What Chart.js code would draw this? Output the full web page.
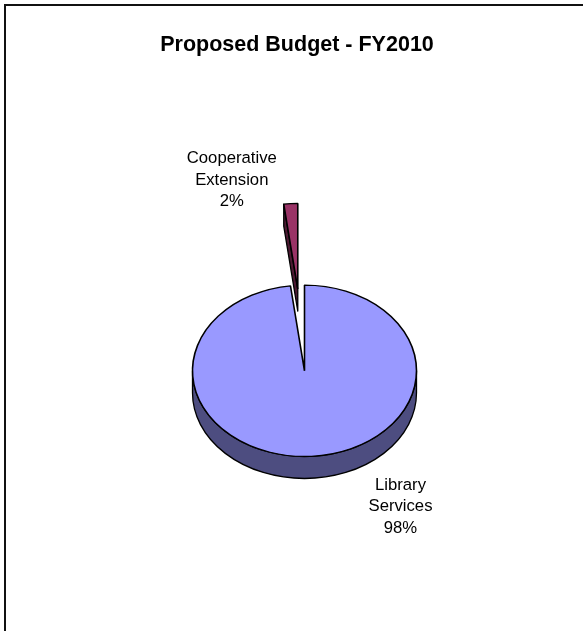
<!DOCTYPE html>
<html>
<head>
<meta charset="utf-8">
<title>Proposed Budget - FY2010</title>
<script src="https://cdn.jsdelivr.net/npm/chart.js@4/dist/chart.umd.min.js"></script>
<style>
  html, body { margin: 0; padding: 0; background: #fff; overflow: hidden; }
  #wrap { position: relative; width: 583px; height: 631px; }
  #frame {
    position: absolute; left: 4px; top: 4px; width: 700px; height: 700px;
    border-left: 2px solid #111; border-top: 2px solid #111;
    pointer-events: none;
  }
  canvas { position: absolute; left: 0; top: 0; }
</style>
</head>
<body>
<div id="wrap">
  <canvas id="chart" width="583" height="631"></canvas>
  <div id="frame"></div>
</div>
<script>
// Budget shares
const categories = ['Library Services', 'Cooperative Extension'];
const values = [98, 2];
const chartTitle = 'Proposed Budget - FY2010';

// Appearance
const topColors = ['#9999ff', '#993366'];
const sideColors = ['#4d4d80', '#4d1a33'];
const explode = [0, 107];          // outward pull of each slice (px, before tilt)
const TILT = 0.765;                // vertical squash of the pie disc
const DEPTH = 22;                  // thickness of the pie
const labelOffsets = [[96, 119], [-66, -126]]; // first baseline of each label, from slice centre
const LABEL_LINE = 21.5;
const FONT = '"Liberation Sans", Arial, Helvetica, sans-serif';

// Draws the pie as a tilted disc with side walls, back slices first
const pie3d = {
  id: 'pie3d',
  beforeDatasetsDraw(chart) {
    const ctx = chart.ctx;
    const meta = chart.getDatasetMeta(0);
    const items = meta.data.map((arc, i) => ({ arc, i, mid: (arc.startAngle + arc.endAngle) / 2 }));
    items.sort((a, b) => Math.sin(a.mid) - Math.sin(b.mid));
    chart.$sliceCentres = [];
    for (const { arc, i, mid } of items) {
      const ex = Math.cos(mid) * explode[i];
      const ey = Math.sin(mid) * explode[i];
      const sx = arc.x + ex;
      const sy = arc.y + ey * TILT;
      chart.$sliceCentres[i] = [sx, sy];
      const r = arc.outerRadius;
      const ry = r * TILT;

      ctx.save();
      ctx.fillStyle = sideColors[i];
      ctx.strokeStyle = '#000';
      ctx.lineWidth = 1.3;
      ctx.lineJoin = 'round';

      // cut faces that turn toward the viewer
      const faces = [];
      if (Math.cos(arc.startAngle) < -1e-6) faces.push(arc.startAngle);
      if (Math.cos(arc.endAngle) > 1e-6) faces.push(arc.endAngle);
      for (const t of faces) {
        const px = sx + r * Math.cos(t);
        const py = sy + ry * Math.sin(t);
        ctx.beginPath();
        ctx.moveTo(sx, sy);
        ctx.lineTo(px, py);
        ctx.lineTo(px, py + DEPTH);
        ctx.lineTo(sx, sy + DEPTH);
        ctx.closePath();
        ctx.fill();
        ctx.stroke();
      }

      // curved outer wall on the front half
      for (let k = -1; k <= 1; k++) {
        const a = Math.max(arc.startAngle, 2 * Math.PI * k);
        const b = Math.min(arc.endAngle, 2 * Math.PI * k + Math.PI);
        if (b - a > 1e-6) {
          ctx.beginPath();
          ctx.ellipse(sx, sy, r, ry, 0, a, b, false);
          ctx.ellipse(sx, sy + DEPTH, r, ry, 0, b, a, true);
          ctx.closePath();
          ctx.fill();
          ctx.stroke();
        }
      }
      ctx.restore();

      // top face, drawn by the arc element itself
      ctx.save();
      ctx.translate(sx, sy);
      ctx.scale(1, TILT);
      ctx.translate(-arc.x, -arc.y);
      arc.draw(ctx);
      ctx.restore();
    }
    return false;
  },
  afterDraw(chart) {
    const ctx = chart.ctx;
    ctx.save();
    ctx.fillStyle = '#000';
    ctx.textAlign = 'center';
    ctx.textBaseline = 'alphabetic';

    ctx.font = 'bold 21.5px ' + FONT;
    ctx.fillText(chartTitle, 297, 50.5);

    const total = values.reduce((s, v) => s + v, 0);
    ctx.font = '16.7px ' + FONT;
    categories.forEach((name, i) => {
      const c = chart.$sliceCentres[i];
      const lines = name.split(' ').concat([Math.round(values[i] / total * 100) + '%']);
      const x = c[0] + labelOffsets[i][0];
      const y = c[1] + labelOffsets[i][1];
      lines.forEach((ln, j) => ctx.fillText(ln, x, y + j * LABEL_LINE));
    });
    ctx.restore();
  }
};

new Chart(document.getElementById('chart'), {
  type: 'pie',
  data: {
    labels: categories,
    datasets: [{
      data: values,
      backgroundColor: topColors,
      borderColor: '#000',
      borderWidth: 1.6,
      radius: 112
    }]
  },
  options: {
    responsive: false,
    animation: false,
    devicePixelRatio: 1,
    layout: { padding: { left: 26, right: 0, top: 110.6, bottom: 0 } },
    plugins: {
      legend: { display: false },
      tooltip: { enabled: false },
      title: { display: false }
    }
  },
  plugins: [pie3d]
});
</script>
</body>
</html>
